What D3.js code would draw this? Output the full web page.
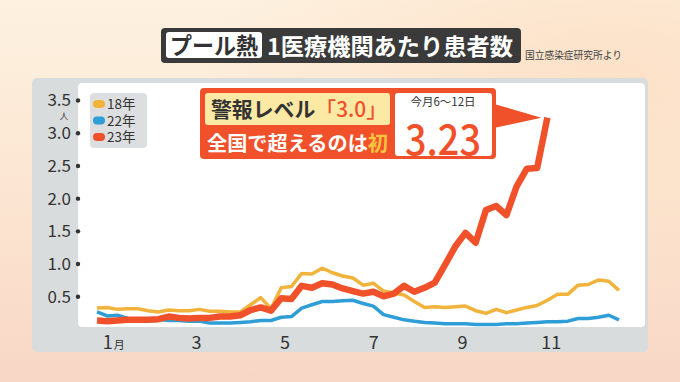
<!DOCTYPE html>
<html><head><meta charset="utf-8">
<script src="https://cdn.jsdelivr.net/npm/d3@7"></script>
<style>
html,body{margin:0;padding:0;width:680px;height:382px;overflow:hidden;}
svg{display:block;}
text{font-family:"Noto Sans CJK JP","Noto Sans",sans-serif;}
</style></head>
<body>
<script>
// ---- data ----
const weeks = d3.range(1, 53);
const series18 = [0.32,0.33,0.30,0.31,0.31,0.28,0.26,0.29,0.28,0.28,
  0.30,0.27,0.27,0.26,0.26,0.37,0.48,0.31,0.63,0.65,
  0.85,0.84,0.93,0.86,0.81,0.78,0.67,0.70,0.58,0.55,
  0.52,0.42,0.33,0.34,0.33,0.34,0.35,0.28,0.24,0.30,
  0.25,0.29,0.33,0.36,0.44,0.53,0.53,0.67,0.68,0.75,
  0.73,0.59];
const series22 = [0.26,0.20,0.21,0.16,0.15,0.15,0.15,0.13,0.13,0.12,
  0.12,0.09,0.09,0.09,0.10,0.11,0.13,0.13,0.18,0.19,
  0.32,0.37,0.42,0.42,0.43,0.44,0.39,0.35,0.22,0.18,
  0.14,0.12,0.10,0.09,0.08,0.08,0.08,0.07,0.07,0.07,
  0.08,0.08,0.09,0.10,0.11,0.11,0.12,0.16,0.16,0.18,
  0.21,0.14];
const series23 = [0.13,0.12,0.13,0.14,0.14,0.14,0.15,0.19,0.17,0.16,
  0.17,0.17,0.19,0.19,0.21,0.29,0.33,0.28,0.47,0.46,
  0.66,0.63,0.70,0.68,0.62,0.58,0.54,0.57,0.50,0.54,
  0.66,0.57,0.63,0.71,0.98,1.26,1.47,1.32,1.82,1.88,
  1.74,2.18,2.45,2.46,3.23];
const seriesNames = ["18年","22年","23年"];
const yTicks = [0.5,1.0,1.5,2.0,2.5,3.0,3.5];
const monthLabels = ["1","3","5","7","9","11"];
const monthWeekPos = [2.0,10.67,19.33,28.0,36.67,45.33];
const titleTag = "プール熱";
const titleMain = "1医療機関あたり患者数";
const source = "国立感染症研究所より";

// ---- drawing ----
const W = 680, H = 382;
const colors = {"18年":"#f1b33b","22年":"#2f9ed6","23年":"#f0512b"};
const svg = d3.select("body").append("svg").attr("width",W).attr("height",H);
const defs = svg.append("defs");
const bg = defs.append("linearGradient").attr("id","bg").attr("x1",0).attr("y1",0).attr("x2",0).attr("y2",1);
bg.append("stop").attr("offset","0%").attr("stop-color","#fdf1e0");
bg.append("stop").attr("offset","60%").attr("stop-color","#fbe3cf");
bg.append("stop").attr("offset","100%").attr("stop-color","#f8d6c5");
svg.append("rect").attr("width",W).attr("height",H).attr("fill","url(#bg)");
const bg2 = defs.append("radialGradient").attr("id","bg2").attr("cx","90%").attr("cy","20%").attr("r","60%");
bg2.append("stop").attr("offset","0%").attr("stop-color","#fcdcbf").attr("stop-opacity",0.7);
bg2.append("stop").attr("offset","100%").attr("stop-color","#fcdcbf").attr("stop-opacity",0);
svg.append("rect").attr("width",W).attr("height",H).attr("fill","url(#bg2)");

// title
svg.append("rect").attr("x",161).attr("y",28).attr("width",360).attr("height",35).attr("rx",4).attr("fill","#3a3a3a");
svg.append("rect").attr("x",166).attr("y",32).attr("width",96).attr("height",26).attr("rx",3).attr("fill","#ffffff");
svg.append("text").attr("x",170).attr("y",54).attr("font-size",23).attr("font-weight",700).attr("fill","#333")
  .attr("textLength",88).attr("lengthAdjust","spacingAndGlyphs").text(titleTag);
svg.append("text").attr("x",267).attr("y",55).attr("font-size",23).attr("font-weight",700).attr("fill","#ffffff")
  .attr("textLength",246).attr("lengthAdjust","spacingAndGlyphs").text(titleMain);
svg.append("text").attr("x",525).attr("y",59).attr("font-size",10).attr("fill","#444")
  .attr("textLength",97).attr("lengthAdjust","spacingAndGlyphs").text(source);

// panels
svg.append("rect").attr("x",32).attr("y",78).attr("width",616).attr("height",274).attr("rx",5).attr("fill","#d9dcdc");
svg.append("rect").attr("x",78).attr("y",83).attr("width",567).attr("height",244).attr("rx",4).attr("fill","#ffffff");

const x = d3.scaleLinear().domain([1,52]).range([97,619]);
const y = d3.scaleLinear().domain([0,3.5]).range([329,100]);

// y axis
const yAxis = d3.axisLeft(y).tickValues(yTicks).tickFormat(d3.format(".1f")).tickSize(0).tickPadding(7);
const ya = svg.append("g").attr("transform","translate(78,0)").call(yAxis);
ya.select(".domain").remove();
ya.selectAll("text").attr("font-size",17).attr("fill","#333").attr("font-family","'Noto Sans CJK JP','Noto Sans',sans-serif").attr("dy","0.35em");
ya.selectAll(".tick").append("circle").attr("r",2.2).attr("cx",0).attr("fill","#333");
svg.append("text").attr("x",64).attr("y",119).attr("text-anchor","middle").attr("font-size",8.5).attr("fill","#333").text("人");

// x axis
const xAxis = d3.axisBottom(x).tickValues(monthWeekPos).tickFormat((d,i)=>monthLabels[i]).tickSize(0).tickPadding(6);
const xa = svg.append("g").attr("transform","translate(0,329)").call(xAxis);
xa.select(".domain").remove();
xa.selectAll("text").attr("font-size",18).attr("fill","#333").attr("font-family","'Noto Sans CJK JP','Noto Sans',sans-serif").attr("dy","0.75em");
xa.selectAll(".tick").filter((d,i)=>i===0).select("text").text(null).attr("text-anchor","start").attr("x",-5)
  .call(t=>{t.append("tspan").text(monthLabels[0]); t.append("tspan").attr("font-size",11).attr("dx",1).text("月");});

// lines
const line = d3.line().x((d,i)=>x(weeks[i])).y(d=>y(d));
const lg = svg.append("g");
lg.append("path").datum(series18).attr("d",line).attr("fill","none").attr("stroke",colors["18年"]).attr("stroke-width",3.5).attr("stroke-linejoin","round");
lg.append("path").datum(series22).attr("d",line).attr("fill","none").attr("stroke",colors["22年"]).attr("stroke-width",3.5).attr("stroke-linejoin","round");
lg.append("path").datum(series23).attr("d",line).attr("fill","none").attr("stroke",colors["23年"]).attr("stroke-width",6.5).attr("stroke-linejoin","round");

// legend
svg.append("rect").attr("x",90).attr("y",93).attr("width",57).attr("height",55).attr("rx",4).attr("fill","#dcdedf");
seriesNames.forEach((n,i)=>{
  const yy = 104 + i*16.5;
  svg.append("rect").attr("x",93).attr("y",yy-4).attr("width",12).attr("height",8).attr("rx",4).attr("fill",colors[n]);
  svg.append("text").attr("x",107).attr("y",yy+5).attr("font-size",13.5).attr("fill","#333").text(n);
});

// callout
const last = series23[series23.length-1];
const px = x(weeks[series23.length-1]), py = y(last);
svg.append("path").attr("d",`M494,104 L${px-6},${py} L494,128 Z`).attr("fill","#f0512b");
svg.append("rect").attr("x",200).attr("y",88).attr("width",296).attr("height",71).attr("rx",4).attr("fill","#f0512b");
svg.append("rect").attr("x",205).attr("y",93).attr("width",185).attr("height",32).attr("rx",3).attr("fill","#fbe9a4");
const t1 = svg.append("text").attr("x",211).attr("y",117).attr("font-size",21).attr("font-weight",700).attr("fill","#333")
  .attr("textLength",176).attr("lengthAdjust","spacingAndGlyphs");
t1.append("tspan").text("警報レベル");
t1.append("tspan").attr("fill","#f0512b").attr("font-weight",500).text("「3.0」");
const t2 = svg.append("text").attr("x",207).attr("y",151).attr("font-size",20).attr("font-weight",700).attr("fill","#ffffff")
  .attr("textLength",181).attr("lengthAdjust","spacingAndGlyphs");
t2.append("tspan").text("全国で超えるのは");
t2.append("tspan").attr("fill","#f7c43f").text("初");
svg.append("rect").attr("x",395).attr("y",93).attr("width",97).attr("height",63).attr("rx",3).attr("fill","#ffffff");
svg.append("text").attr("x",443).attr("y",106).attr("text-anchor","middle").attr("font-size",11.5).attr("fill","#333").text("今月6〜12日");
svg.append("text").attr("x",405).attr("y",155).attr("font-size",42).attr("font-weight",500).attr("fill","#f0512b")
  .attr("textLength",76).attr("lengthAdjust","spacingAndGlyphs").text(d3.format(".2f")(last));
</script>
</body></html>
